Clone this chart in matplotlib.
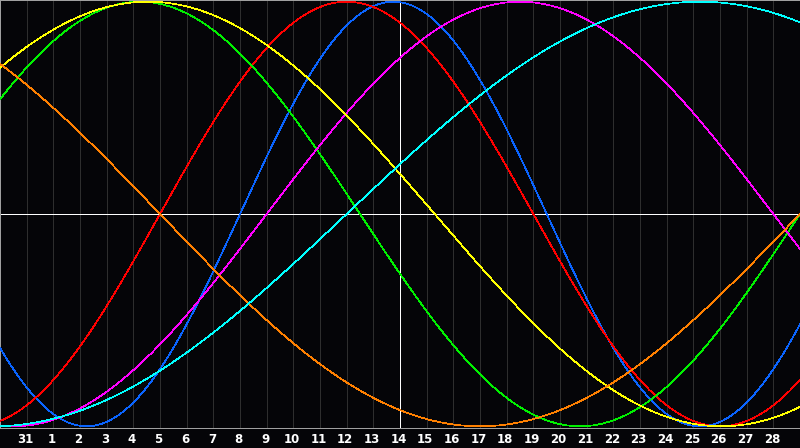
import matplotlib

matplotlib.use("Agg")

import matplotlib.pyplot as plt
import numpy as np

# day labels under the grid lines (grid line 1 .. 29)
day_labels = ["31", "1", "2", "3", "4", "5", "6", "7", "8", "9", "10", "11",
              "12", "13", "14", "15", "16", "17", "18", "19", "20", "21",
              "22", "23", "24", "25", "26", "27", "28"]
span_days = 30
today_index = 15

# biorhythm cycles: period in days, day within the cycle at the left edge
cycle_names = ["physical", "emotional", "intellectual", "intuitive",
               "aesthetic", "awareness", "spiritual"]
cycle_periods = [23, 28, 33, 38, 43, 48, 53]
cycle_start = [14.0, 22.0, 3.0, 28.0, 5.2, 18.0, 40.0]
cycle_colors = ["#0a64ff", "#ff0000", "#00f000", "#ff00ff",
                "#ffff00", "#ff8000", "#00ffff"]

BG = "#050508"

fig = plt.figure(figsize=(8.0, 4.48), dpi=100)
fig.patch.set_facecolor(BG)
ax = fig.add_axes([0, 20 / 448, 1, 428 / 448])
ax.set_facecolor(BG)

x = np.linspace(0, span_days, 1601)
for k in range(1, span_days):
    ax.axvline(k, color="#2e2e2e", lw=0.5, antialiased=False, zorder=1)

ax.axhline(0, color="white", lw=0.5, antialiased=False, zorder=2)
ax.axvline(today_index, color="white", lw=0.5, antialiased=False, zorder=2)

for name, period, start, color in zip(cycle_names, cycle_periods, cycle_start, cycle_colors):
    y = np.sin(2 * np.pi * (start + x) / period)
    ax.plot(x, y, color=color, lw=0.5, antialiased=False, zorder=3, label=name)

ax.set_xlim(0, span_days)
ax.set_ylim(-1.008, 1.008)
ax.set_xticks([])
ax.set_yticks([])
for side in ["left", "right", "top", "bottom"]:
    ax.spines[side].set_color("#a0a0a0")
    ax.spines[side].set_linewidth(0.5)
    ax.spines[side].set_antialiased(False)

for i, lab in enumerate(day_labels):
    fig.text((i + 1) / span_days - 1.5 / 800, 9 / 448, lab,
             color="white", fontsize=8.5, fontweight="bold",
             family="DejaVu Sans", ha="center", va="center")

fig.savefig("out.png", dpi=100, facecolor=BG)
